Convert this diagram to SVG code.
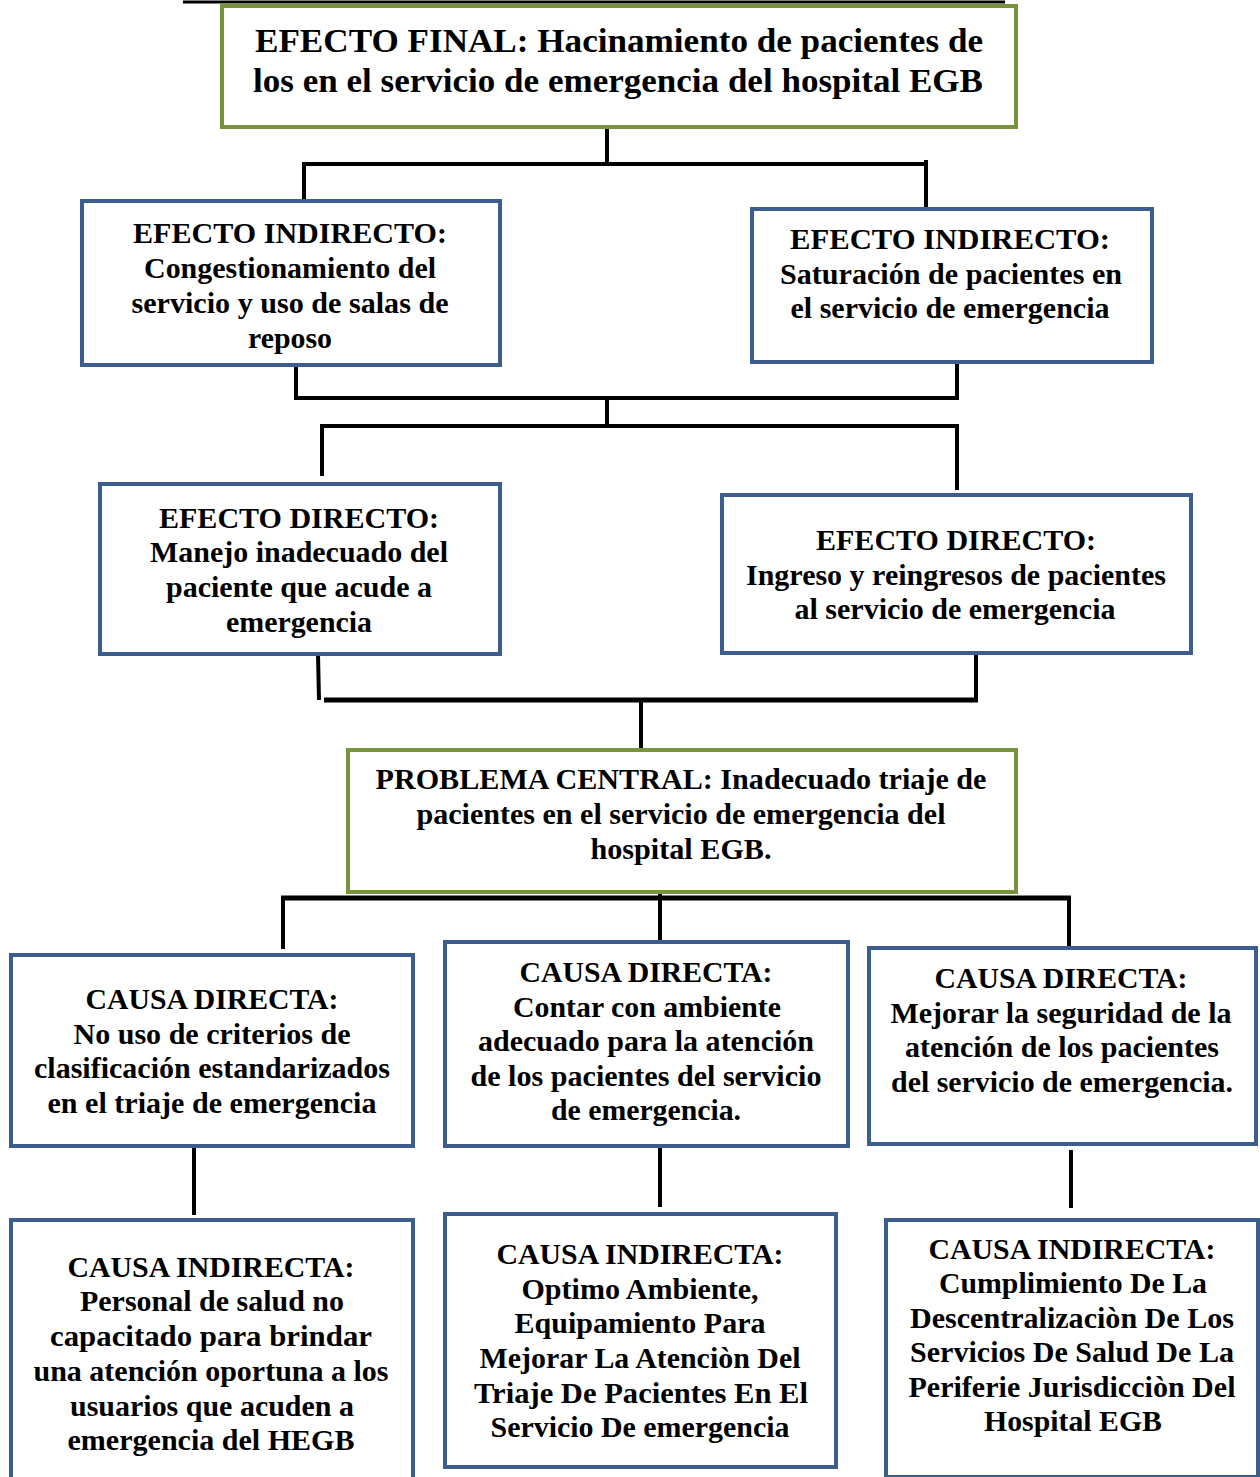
<svg xmlns="http://www.w3.org/2000/svg" width="1260" height="1477" viewBox="0 0 1260 1477">
<style>
.bg{fill:#ffffff}
.g{fill:#ffffff;stroke:#77933C;stroke-width:4}
.b{fill:#ffffff;stroke:#3B5E8F;stroke-width:4}
.t{font-family:"Liberation Serif","Times New Roman",serif;font-weight:bold;font-size:29px;fill:#000;text-anchor:middle}
.tt{font-size:34px}
.c{stroke:#000;stroke-width:4;fill:none;stroke-linecap:butt}
.c5{stroke:#000;stroke-width:5;fill:none}
</style>
<rect class="bg" x="0" y="0" width="1260" height="1477"/>
<line x1="183" y1="2" x2="1005" y2="2" stroke="#000" stroke-width="3"/>
<g id="connectors">
<path class="c" d="M607,127 V164 M302,164 H928 M304,162 V201 M926,160 V209"/>
<path class="c" d="M296,365 V398 M957,362 V398 M294,398 H959 M607,398 V426 M320,426 H959 M322,424 V476 M957,424 V490"/>
<path class="c" d="M318,654 L319,700 M976,653 V700 M641,700 V750"/>
<path class="c5" d="M324,700 H978"/>
<path class="c5" d="M281,898 H1071"/>
<path class="c" d="M283,896 V949 M1069,896 V960 M660,892 V942"/>
<path class="c" d="M194,1146 V1215 M660,1146 V1207 M1071,1150 V1208"/>
</g>
<g id="efecto-final">
<rect class="g" x="222" y="6" width="794" height="121"/>
<text class="t tt" x="619" y="52" textLength="728" lengthAdjust="spacingAndGlyphs">EFECTO FINAL: Hacinamiento de pacientes de</text>
<text class="t tt" x="618" y="92" textLength="730" lengthAdjust="spacingAndGlyphs">los en el servicio de emergencia del hospital EGB</text>
</g>
<g id="efecto-indirecto-1">
<rect class="b" x="82" y="201" width="418" height="164"/>
<text class="t" x="290" y="243" textLength="314" lengthAdjust="spacingAndGlyphs">EFECTO INDIRECTO:</text>
<text class="t" x="290" y="278" textLength="292" lengthAdjust="spacingAndGlyphs">Congestionamiento del</text>
<text class="t" x="290" y="313" textLength="317" lengthAdjust="spacingAndGlyphs">servicio y uso de salas de</text>
<text class="t" x="290" y="348" textLength="84" lengthAdjust="spacingAndGlyphs">reposo</text>
</g>
<g id="efecto-indirecto-2">
<rect class="b" x="752" y="209" width="400" height="153"/>
<text class="t" x="950" y="249" textLength="320" lengthAdjust="spacingAndGlyphs">EFECTO  INDIRECTO:</text>
<text class="t" x="951" y="284" textLength="342" lengthAdjust="spacingAndGlyphs">Saturación de pacientes en</text>
<text class="t" x="950" y="318" textLength="319" lengthAdjust="spacingAndGlyphs">el servicio de emergencia</text>
</g>
<g id="efecto-directo-1">
<rect class="b" x="100" y="484" width="400" height="170"/>
<text class="t" x="299" y="528" textLength="280" lengthAdjust="spacingAndGlyphs">EFECTO DIRECTO:</text>
<text class="t" x="299" y="562" textLength="298" lengthAdjust="spacingAndGlyphs">Manejo inadecuado del</text>
<text class="t" x="299" y="597" textLength="266" lengthAdjust="spacingAndGlyphs">paciente que acude a</text>
<text class="t" x="299" y="632" textLength="146" lengthAdjust="spacingAndGlyphs">emergencia</text>
</g>
<g id="efecto-directo-2">
<rect class="b" x="722" y="495" width="469" height="158"/>
<text class="t" x="956" y="550" textLength="280" lengthAdjust="spacingAndGlyphs">EFECTO DIRECTO:</text>
<text class="t" x="956" y="585" textLength="420" lengthAdjust="spacingAndGlyphs">Ingreso y reingresos de pacientes</text>
<text class="t" x="955" y="619" textLength="321" lengthAdjust="spacingAndGlyphs">al servicio de emergencia</text>
</g>
<g id="problema-central">
<rect class="g" x="348" y="750" width="668" height="142"/>
<text class="t" x="681" y="789" textLength="611" lengthAdjust="spacingAndGlyphs">PROBLEMA CENTRAL: Inadecuado triaje de</text>
<text class="t" x="681" y="824" textLength="529" lengthAdjust="spacingAndGlyphs">pacientes en el servicio de emergencia del</text>
<text class="t" x="681" y="859" textLength="181" lengthAdjust="spacingAndGlyphs">hospital EGB.</text>
</g>
<g id="causa-directa-1">
<rect class="b" x="11" y="955" width="402" height="191"/>
<text class="t" x="212" y="1009" textLength="253" lengthAdjust="spacingAndGlyphs">CAUSA DIRECTA:</text>
<text class="t" x="212" y="1044" textLength="277" lengthAdjust="spacingAndGlyphs">No uso de criterios de</text>
<text class="t" x="212" y="1078" textLength="356" lengthAdjust="spacingAndGlyphs">clasificación estandarizados</text>
<text class="t" x="212" y="1113" textLength="329" lengthAdjust="spacingAndGlyphs">en el triaje de emergencia</text>
</g>
<g id="causa-directa-2">
<rect class="b" x="445" y="942" width="403" height="204"/>
<text class="t" x="646" y="982" textLength="253" lengthAdjust="spacingAndGlyphs">CAUSA DIRECTA:</text>
<text class="t" x="647" y="1017" textLength="268" lengthAdjust="spacingAndGlyphs">Contar con ambiente</text>
<text class="t" x="646" y="1051" textLength="336" lengthAdjust="spacingAndGlyphs">adecuado para la atención</text>
<text class="t" x="646" y="1086" textLength="351" lengthAdjust="spacingAndGlyphs">de los pacientes del servicio</text>
<text class="t" x="646" y="1120" textLength="190" lengthAdjust="spacingAndGlyphs">de emergencia.</text>
</g>
<g id="causa-directa-3">
<rect class="b" x="869" y="948" width="387" height="196"/>
<text class="t" x="1061" y="988" textLength="253" lengthAdjust="spacingAndGlyphs">CAUSA DIRECTA:</text>
<text class="t" x="1061" y="1023" textLength="341" lengthAdjust="spacingAndGlyphs">Mejorar la seguridad de la</text>
<text class="t" x="1062" y="1057" textLength="314" lengthAdjust="spacingAndGlyphs">atención de los pacientes</text>
<text class="t" x="1062" y="1092" textLength="342" lengthAdjust="spacingAndGlyphs">del servicio de emergencia.</text>
</g>
<g id="causa-indirecta-1">
<rect class="b" x="11" y="1220" width="402" height="262"/>
<text class="t" x="211" y="1277" textLength="287" lengthAdjust="spacingAndGlyphs">CAUSA INDIRECTA:</text>
<text class="t" x="212" y="1311" textLength="264" lengthAdjust="spacingAndGlyphs">Personal de salud no</text>
<text class="t" x="211" y="1346" textLength="322" lengthAdjust="spacingAndGlyphs">capacitado  para brindar</text>
<text class="t" x="211" y="1381" textLength="355" lengthAdjust="spacingAndGlyphs">una atención oportuna a los</text>
<text class="t" x="212" y="1416" textLength="284" lengthAdjust="spacingAndGlyphs">usuarios que acuden a</text>
<text class="t" x="211" y="1450" textLength="287" lengthAdjust="spacingAndGlyphs">emergencia del HEGB</text>
</g>
<g id="causa-indirecta-2">
<rect class="b" x="445" y="1214" width="391" height="253"/>
<text class="t" x="640" y="1264" textLength="287" lengthAdjust="spacingAndGlyphs">CAUSA INDIRECTA:</text>
<text class="t" x="640" y="1299" textLength="237" lengthAdjust="spacingAndGlyphs">Optimo Ambiente,</text>
<text class="t" x="640" y="1333" textLength="251" lengthAdjust="spacingAndGlyphs">Equipamiento Para</text>
<text class="t" x="640" y="1368" textLength="321" lengthAdjust="spacingAndGlyphs">Mejorar La Atenciòn Del</text>
<text class="t" x="641" y="1403" textLength="334" lengthAdjust="spacingAndGlyphs">Triaje De  Pacientes En El</text>
<text class="t" x="640" y="1437" textLength="299" lengthAdjust="spacingAndGlyphs">Servicio De emergencia</text>
</g>
<g id="causa-indirecta-3">
<rect class="b" x="886" y="1220" width="372" height="257"/>
<text class="t" x="1072" y="1259" textLength="287" lengthAdjust="spacingAndGlyphs">CAUSA INDIRECTA:</text>
<text class="t" x="1073" y="1293" textLength="268" lengthAdjust="spacingAndGlyphs">Cumplimiento De La</text>
<text class="t" x="1072" y="1328" textLength="324" lengthAdjust="spacingAndGlyphs">Descentralizaciòn De Los</text>
<text class="t" x="1072" y="1362" textLength="324" lengthAdjust="spacingAndGlyphs">Servicios De Salud De La</text>
<text class="t" x="1072" y="1397" textLength="327" lengthAdjust="spacingAndGlyphs">Periferie Jurisdicciòn Del</text>
<text class="t" x="1073" y="1431" textLength="178" lengthAdjust="spacingAndGlyphs">Hospital EGB</text>
</g>
</svg>
